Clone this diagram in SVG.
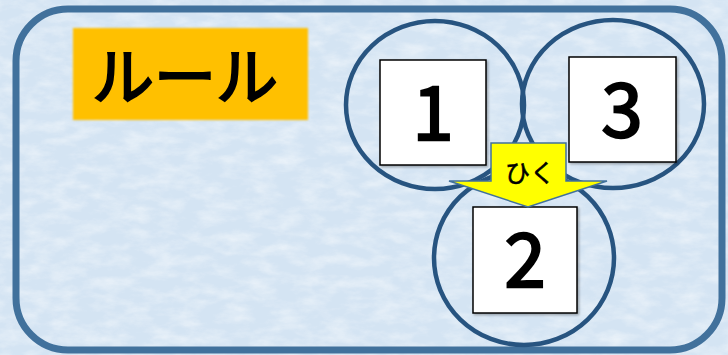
<svg xmlns="http://www.w3.org/2000/svg" width="728" height="355" viewBox="0 0 728 355">
<defs>
<filter id="tex" x="0" y="0" width="100%" height="100%">
<feTurbulence type="fractalNoise" baseFrequency="0.04 0.09" numOctaves="4" seed="3" result="n"/>
<feColorMatrix in="n" type="matrix" values="0 0 0 0 1  0 0 0 0 1  0 0 0 0 1  0 0 0 -1.6 1.0" result="w"/>
<feComposite in="w" in2="SourceGraphic" operator="in"/>
</filter>
<filter id="sh" x="-10%" y="-10%" width="130%" height="130%">
<feDropShadow dx="1.5" dy="1.5" stdDeviation="1" flood-color="#000" flood-opacity="0.3"/>
</filter>
<filter id="blur1"><feGaussianBlur stdDeviation="0.8"/></filter>
</defs>
<style>
.ring{fill:none;stroke:#275480;stroke-width:4.5}
.card{fill:#fff;stroke:#000;stroke-width:1.5}
.num{font-family:"Noto Sans CJK JP","Noto Sans",sans-serif;font-size:74px;fill:#000;stroke:#000;stroke-width:2.4;text-anchor:middle}
</style>
<rect x="0" y="0" width="728" height="355" fill="#d4e4f3"/>
<rect x="0" y="0" width="728" height="355" fill="#d4e4f3" filter="url(#tex)" opacity="0.55"/>
<g id="frame">
<rect x="16" y="9" width="706" height="341" rx="52" ry="52" fill="none" stroke="#41719c" stroke-width="7"/>
</g>
<g id="title">
<rect x="73" y="28" width="235" height="92" fill="#ffc000" filter="url(#blur1)"/>
<text x="185" y="100" font-family="Noto Sans CJK JP,sans-serif" font-size="62" stroke="#000" stroke-width="2.2" text-anchor="middle" fill="#000">ルール</text>
</g>
<g id="node2">
<ellipse class="ring" cx="524" cy="258" rx="90" ry="87"/>
<rect class="card" x="473" y="207" width="104" height="106" filter="url(#sh)"/>
<text class="num" x="525" y="287">2</text>
</g>
<g id="node1">
<ellipse class="ring" cx="435" cy="105" rx="89" ry="84"/>
<rect class="card" x="380" y="60" width="106" height="105" filter="url(#sh)"/>
<text class="num" x="433" y="140">1</text>
</g>
<g id="node3">
<ellipse class="ring" cx="613" cy="104" rx="91" ry="84"/>
<rect class="card" x="569" y="57" width="107" height="105" filter="url(#sh)"/>
<text class="num" x="622" y="137">3</text>
</g>
<g id="connectors">
<g id="arrow-hiku">
<path d="M491,143 H566 V181 H607 L528,207 L449,181 H491 Z" fill="#ffff00" stroke="#41719c" stroke-width="1.5" stroke-linejoin="miter"/>
<text x="530" y="182" font-family="Noto Sans CJK JP,sans-serif" font-size="25" stroke="#000" stroke-width="0.6" text-anchor="middle" fill="#000">ひく</text>
</g>
</g>
</svg>
